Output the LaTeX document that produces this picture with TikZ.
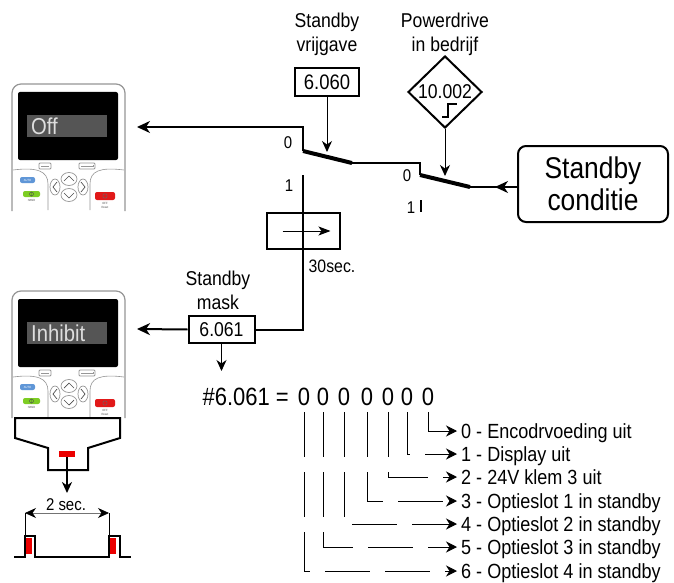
\documentclass[tikz,border=0pt]{standalone}
\usepackage{fontspec}
\setmainfont{Liberation Sans}[FakeStretch=0.88]
\usetikzlibrary{arrows.meta,shapes.geometric}

\definecolor{kpgrey}{RGB}{150,150,150}
\definecolor{lcdgrey}{RGB}{85,85,85}
\definecolor{lcdtext}{RGB}{222,222,222}
\definecolor{autoblue}{RGB}{95,150,215}
\definecolor{handgreen}{RGB}{125,205,35}
\definecolor{offred}{RGB}{225,25,25}
\definecolor{ledred}{RGB}{235,0,0}

\tikzset{
  wire/.style={line width=2pt},
  blade/.style={line width=4pt},
  thinwire/.style={line width=1pt},
  bigtip/.style={-{Stealth[length=13pt,width=12pt,inset=4pt]}},
  smalltip/.style={-{Stealth[length=11pt,width=10pt,inset=3.5pt]}},
  parbox/.style={draw,line width=2pt,minimum width=64pt,minimum height=28pt,inner sep=0pt,font=\fontsize{21}{21}\selectfont},
  lbl/.style={inner sep=0pt,align=center,font=\fontsize{20}{24}\selectfont},
  numlbl/.style={inner sep=0pt,font=\fontsize{17}{17}\selectfont},
  bitdigit/.style={inner sep=0pt,font=\fontsize{25}{25}\selectfont},
  bitline/.style={line width=1pt,dash pattern=on 45pt off 15pt,shorten >=4pt,-{Stealth[length=11pt,width=11pt,inset=3.5pt]}},
  bittxt/.style={anchor=west,inner sep=0pt,text height=14pt,text depth=0pt,font=\fontsize{20.5}{20.5}\selectfont},
  tinytxt/.style={inner sep=0pt,font=\fontsize{3}{3.4}\selectfont,align=center},
}

\newcommand\drawkeypad[3]{%
\begin{scope}[shift={#1}]
\filldraw[fill=white,draw=kpgrey,line width=1.2pt,rounded corners=9pt] (0,127) -- (0,0) -- (113,0) -- (113,127);
\fill[black,rounded corners=2pt] (6,8) rectangle (106,76);
\fill[lcdgrey] (15,31) rectangle (95,53);
\node[anchor=west,inner sep=0pt,text=lcdtext,font=\fontsize{23}{23}\selectfont] (#2) at (19,42) {#3};
\draw[kpgrey,line width=0.6pt] (1,86) .. controls (25,83) and (36,87) .. (36,100) -- (36,126);
\draw[kpgrey,line width=0.6pt] (112,86) .. controls (88,83) and (78,87) .. (78,100) -- (78,126);
\draw[kpgrey,line width=0.8pt,rounded corners=1pt] (27,79) rectangle (39,85);
\draw[kpgrey,line width=0.8pt,rounded corners=1pt] (67,79) rectangle (83,85);
\draw[kpgrey,line width=0.5pt] (29,82) -- (37,82) (69,82) -- (81,82) -- (81,80.5);
\draw[kpgrey,line width=0.7pt] (57,95) ellipse [x radius=8,y radius=6.5];
\draw[kpgrey,line width=0.7pt] (57,111) ellipse [x radius=8,y radius=6.5];
\draw[kpgrey,line width=0.7pt] (43,103) ellipse [x radius=5,y radius=8];
\draw[kpgrey,line width=0.7pt] (71,103) ellipse [x radius=5,y radius=8];
\draw[black!70,line width=0.7pt] (52,97) -- (57,92) -- (62,97) (52,109) -- (57,114) -- (62,109)
  (45,98) -- (41,103) -- (45,108) (69,98) -- (73,103) -- (69,108);
\fill[autoblue,rounded corners=2pt] (8,93) rectangle (23,99);
\node[tinytxt,text=white] (#2auto) at (15.5,96) {AUTO};
\fill[handgreen,rounded corners=2pt] (11,107) rectangle (28,113);
\draw[black!70,line width=0.4pt] (19.5,110) circle (2) (19.5,107.5) -- (19.5,112.5);
\node[tinytxt,text=black!70] (#2hand) at (19.5,116.5) {HAND};
\fill[offred,rounded corners=2pt] (83,108) rectangle (103,116);
\draw[black!60,line width=0.4pt] (93,112) circle (2.2);
\node[tinytxt,text=black!70] (#2off) at (93,121.5) {OFF\\Reset};
\end{scope}}

\begin{document}
\begin{tikzpicture}[x=1pt,y=-1pt]
\useasboundingbox (0,0) rectangle (674,583);

\drawkeypad{(12,84)}{kpoff}{Off}
\drawkeypad{(12,291)}{kpinh}{Inhibit}

\draw[line width=2pt] (15,418) -- (15,438) -- (48,448) -- (48,470) -- (88,470) -- (88,448) -- (120,438) -- (120,418) -- cycle;
\node[fill=ledred,inner sep=0pt,minimum width=16pt,minimum height=6pt] (led) at (67,454) {};
\coordinate (ledtip) at (67,493);
\draw[wire,smalltip] (led.south) -- (ledtip);

\node[inner sep=0pt,font=\fontsize{17}{17}\selectfont] (twosec) at (66,505) {2 sec.};
\coordinate (pl) at (25,513);
\coordinate (pr) at (109,513);
\fill[ledred] (26,538) rectangle (32,554);
\fill[ledred] (110,538) rectangle (116,554);
\draw[black!55,line width=0.8pt,{Stealth[length=11pt,width=10pt,inset=3.5pt,black]}-{Stealth[length=11pt,width=10pt,inset=3.5pt,black]}] (pl) -- (pr);
\draw[line width=1pt] (pl) -- (25,536) (pr) -- (109,536);
\draw[wire] (14,557) -- (25,557) -- (25,536) -- (35,536) -- (35,557) -- (109,557) -- (109,536) -- (120,536) -- (120,557) -- (131,557);

\node[lbl] (vrijlbl) at (327,34) {Standby\\vrijgave};
\node[parbox] (p6060) at (327,82) {6.060};
\node[lbl] (pdlbl) at (445,34) {Powerdrive\\in bedrijf};
\node[draw,diamond,line width=2pt,minimum width=74pt,minimum height=72pt,inner sep=0pt,font=\fontsize{20}{20}\selectfont] (d10002) at (445,92) {10.002};
\draw[wire] ([shift={(-3,25)}]d10002.center) -- ++(6,0) -- ++(0,-13) -- ++(9,0);

\node[draw,line width=2pt,rounded corners=8pt,minimum width=150pt,minimum height=76pt,inner sep=0pt,align=center,font=\fontsize{30}{32}\selectfont] (cond) at (593,184) {Standby\\conditie};

\coordinate (sw1a) at (303,151);
\coordinate (sw1b) at (352,163);
\coordinate (sw1c) at (303,175);
\coordinate (sw2a) at (420,175);
\coordinate (sw2b) at (470,187);
\coordinate (kp1in) at (137,127);
\coordinate (kp2in) at (137,329);
\coordinate (sw1tip) at (327,152);
\coordinate (sw2tip) at (445,176);
\coordinate (condtip) at (495,187);

\draw[wire,bigtip] (sw1a) |- (kp1in);
\draw[blade] (sw1a) -- (sw1b);
\draw[wire] (sw1b) -| (sw2a);
\draw[blade] (sw2a) -- (sw2b);
\draw[wire] (cond.west |- sw2b) -- (sw2b);
\draw[wire,bigtip] (cond.west |- sw2b) -- (condtip);
\draw[thinwire,smalltip] (p6060.south) -- (sw1tip);
\draw[thinwire,smalltip] (d10002.south) -- (sw2tip);

\node[numlbl] (sw1zero) at (288,143) {0};
\node[numlbl] (sw1one) at (289,186) {1};
\node[numlbl] (sw2zero) at (407,176) {0};
\node[numlbl] (sw2one) at (411,208) {1};
\draw[wire] (421,200) -- (421,212);

\node[draw,line width=2pt,minimum width=73pt,minimum height=36pt,inner sep=0pt] (timer) at (303.5,231) {};
\draw[thinwire,-{Stealth[length=12pt,width=9pt,inset=3pt]}] ([xshift=-21pt]timer.center) -- ([xshift=27pt]timer.center);
\node[inner sep=0pt,font=\fontsize{18}{18}\selectfont] (tsec) at (332,266) {30sec.};

\node[lbl] (masklbl) at (218,290) {Standby\\mask};
\node[parbox,minimum width=66pt,minimum height=27pt,font=\fontsize{20}{20}\selectfont] (p6061) at (221.5,329.5) {6.061};
\draw[wire] (sw1c) |- (p6061.east);
\draw[wire,bigtip] (p6061.west) -- (kp2in);
\coordinate (masktip) at (221.5,371);
\draw[thinwire,smalltip] (p6061.south) -- (masktip);

\node[anchor=east,inner sep=0pt,font=\fontsize{25}{25}\selectfont] (bitword) at (289,397) {\#6.061 =};

\foreach \b/\x/\y/\txt in {0/428/431/{0 - Encodrvoeding uit},1/407/454/{1 - Display uit},2/388/477/{2 - 24V klem 3 uit},3/367/501/{3 - Optieslot 1 in standby},4/344/524/{4 - Optieslot 2 in standby},5/323/547/{5 - Optieslot 3 in standby},6/304/571/{6 - Optieslot 4 in standby}}{
  \node[bitdigit] (bit\b) at (\x,397) {0};
  \coordinate (bt\b) at (\x,412);
  \node[bittxt] (item\b) at (461,\y) {\txt};
  \draw[bitline] (bt\b) |- (item\b.west);
}
\end{tikzpicture}
\end{document}
